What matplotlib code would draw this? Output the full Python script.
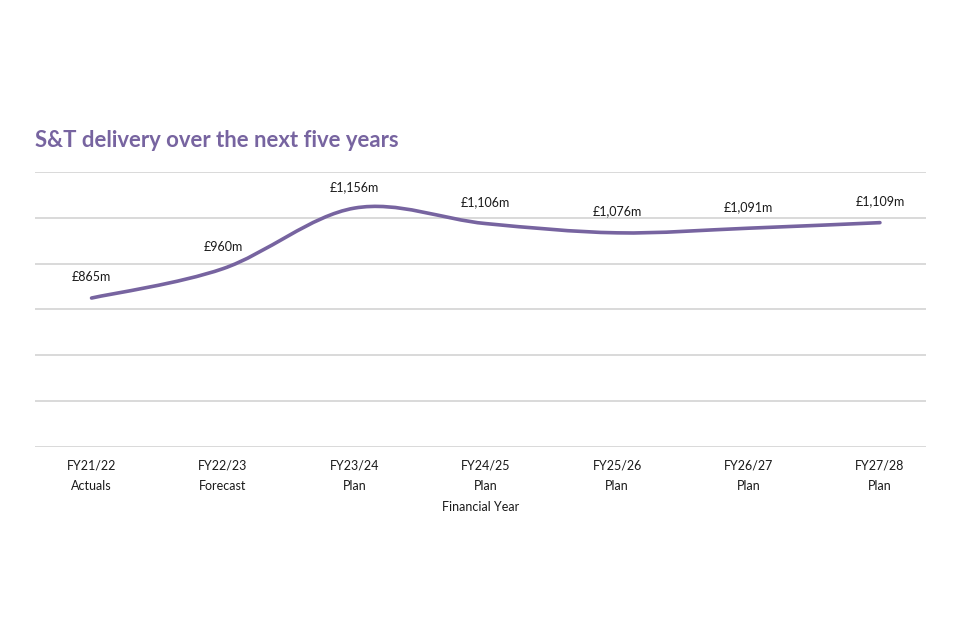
import matplotlib
matplotlib.use("Agg")
import matplotlib.pyplot as plt
from matplotlib.path import Path
from matplotlib.patches import PathPatch
import numpy as np

anios = ["FY21/22", "FY22/23", "FY23/24", "FY24/25", "FY25/26", "FY26/27", "FY27/28"]
estados = ["Actuals", "Forecast", "Plan", "Plan", "Plan", "Plan", "Plan"]
valores = [865, 960, 1156, 1106, 1076, 1091, 1109]
etiquetas = ["£865m", "£960m", "£1,156m", "£1,106m", "£1,076m", "£1,091m", "£1,109m"]

morado = "#7764a0"
gris = "#d9d9d9"

plt.rcParams["font.family"] = ["Lato", "DejaVu Sans"]

fig = plt.figure(figsize=(9.6, 6.4), dpi=100)
ax = fig.add_axes([0.0365, 0.3016, 0.928, 0.4297])

x = np.arange(len(valores))
y = np.array(valores, dtype=float)

# curva suave: catmull-rom pasado a bezier cubica
verts = [(x[0], y[0])]
codes = [Path.MOVETO]
for i in range(len(x) - 1):
    x0, y0 = (x[i - 1], y[i - 1]) if i > 0 else (x[i], y[i])
    x3, y3 = (x[i + 2], y[i + 2]) if i + 2 < len(x) else (x[i + 1], y[i + 1])
    c1 = (x[i] + (x[i + 1] - x0) / 6, y[i] + (y[i + 1] - y0) / 6)
    c2 = (x[i + 1] - (x3 - x[i]) / 6, y[i + 1] - (y3 - y[i]) / 6)
    verts += [c1, c2, (x[i + 1], y[i + 1])]
    codes += [Path.CURVE4] * 3
ax.add_patch(PathPatch(Path(verts, codes), facecolor="none", edgecolor=morado,
                       lw=2.6, capstyle="round", joinstyle="round", zorder=3))

for xi, yi, txt in zip(x, y, etiquetas):
    ax.annotate(txt, (xi, yi), xytext=(0, 11), textcoords="offset points",
                ha="center", va="bottom", fontsize=9, color="#1a1a1a")

ax.set_xlim(-0.43, 6.35)
ax.set_ylim(383, 1273)
ax.set_yticks(np.linspace(383, 1273, 7))
ax.set_yticklabels([])
ax.tick_params(axis="y", length=0)
ax.grid(axis="y", color=gris, lw=1.4)
ax.set_axisbelow(True)
for s in ax.spines.values():
    s.set_visible(False)

ax.set_xticks(x)
ax.set_xticklabels([a + "\n" + e for a, e in zip(anios, estados)],
                   fontsize=9, color="#1a1a1a", linespacing=1.9)
ax.tick_params(axis="x", length=0, pad=9)
ax.set_xlabel("Financial Year", fontsize=9, color="#1a1a1a", labelpad=6)

fig.text(0.0365, 0.781, "S&T delivery over the next five years", fontsize=15.9,
         fontweight="bold", color=morado, va="center", ha="left")

fig.savefig("out.png", dpi=100, facecolor="white")
